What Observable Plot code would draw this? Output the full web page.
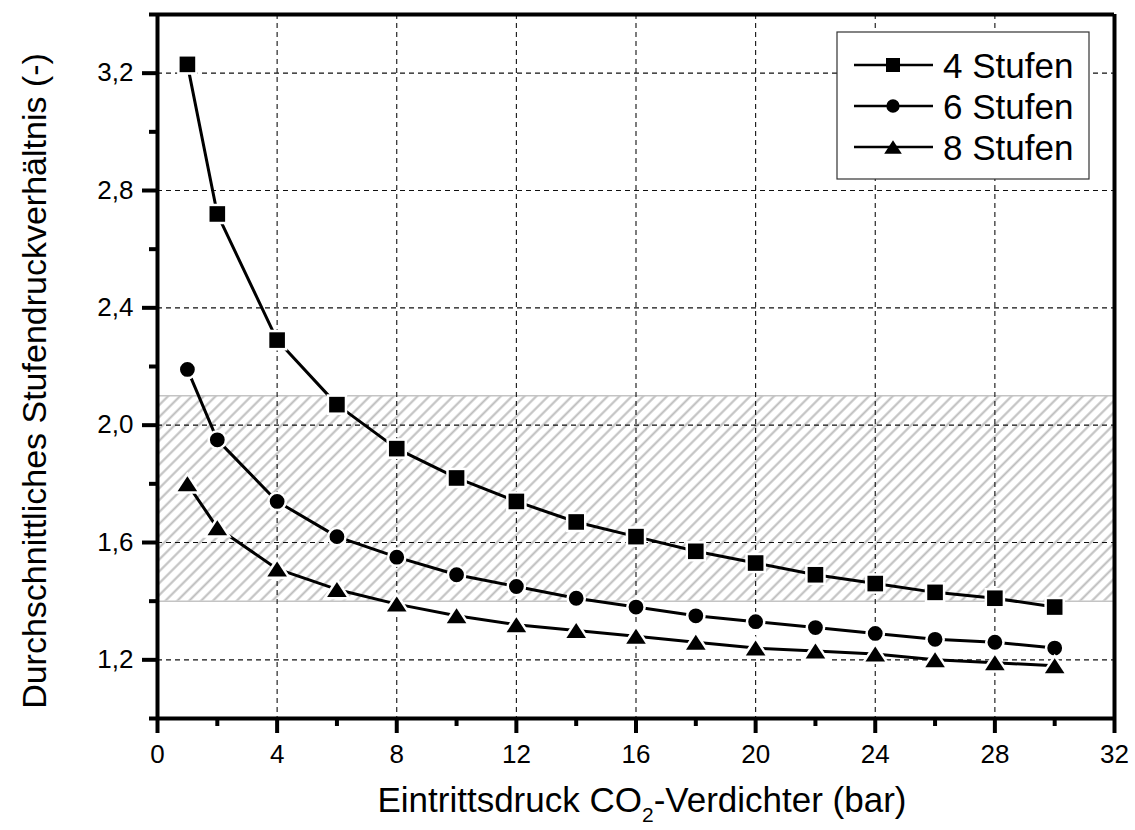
<!DOCTYPE html>
<html>
<head>
<meta charset="utf-8">
<script src="https://cdn.jsdelivr.net/npm/d3@7"></script>
<script src="https://cdn.jsdelivr.net/npm/@observablehq/plot@0.6"></script>
<style>
  body { margin: 0; background: #fff; }
  #wrap { position: relative; width: 1135px; height: 830px; background: #fff; }
  #wrap svg { display: block; }
  #overlay { position: absolute; left: 0; top: 0; pointer-events: none; }
</style>
</head>
<body>
<div id="wrap"></div>
<script>
// ---- data ----
const pressure = [1, 2, 4, 6, 8, 10, 12, 14, 16, 18, 20, 22, 24, 26, 28, 30];
const stufen4 = [3.23, 2.72, 2.29, 2.07, 1.92, 1.82, 1.74, 1.67, 1.62, 1.57, 1.53, 1.49, 1.46, 1.43, 1.41, 1.38];
const stufen6 = [2.19, 1.95, 1.74, 1.62, 1.55, 1.49, 1.45, 1.41, 1.38, 1.35, 1.33, 1.31, 1.29, 1.27, 1.26, 1.24];
const stufen8 = [1.80, 1.65, 1.51, 1.44, 1.39, 1.35, 1.32, 1.30, 1.28, 1.26, 1.24, 1.23, 1.22, 1.20, 1.19, 1.18];
const seriesNames = ["4 Stufen", "6 Stufen", "8 Stufen"];
const bandRange = [1.4, 2.1];
const xDomain = [0, 32];
const yDomain = [1.0, 3.4];
const xMajorTicks = [0, 4, 8, 12, 16, 20, 24, 28, 32];
const xMinorTicks = [2, 6, 10, 14, 18, 22, 26, 30];
const yMajorTicks = [1.2, 1.6, 2.0, 2.4, 2.8, 3.2];
const yMinorTicks = [1.0, 1.4, 1.8, 2.2, 2.6, 3.0, 3.4];
const xGridTicks = [4, 8, 12, 16, 20, 24, 28];
const xTitle = ["Eintrittsdruck CO", "2", "-Verdichter (bar)"];
const yTitle = "Durchschnittliches Stufendruckverhältnis (-)";

// ---- build tables ----
const seriesValues = [stufen4, stufen6, stufen8];
const rows = [];
seriesNames.forEach((s, k) => pressure.forEach((p, i) => rows.push({p, v: seriesValues[k][i], s})));
const bandRows = [{x1: xDomain[0], x2: xDomain[1], y1: bandRange[0], y2: bandRange[1]}];

// ---- custom symbols (Origin-like) ----
const symSquare = {draw(ctx) { const h = 7.8; ctx.moveTo(-h, -h); ctx.lineTo(h, -h); ctx.lineTo(h, h); ctx.lineTo(-h, h); ctx.closePath(); }};
const symCircle = {draw(ctx) { const r = 7.4; ctx.moveTo(r, 0); ctx.arc(0, 0, r, 0, 2 * Math.PI); ctx.closePath(); }};
const symTriangle = {draw(ctx) { const w = 9.8, h = 7.5; ctx.moveTo(0, -h); ctx.lineTo(w, h); ctx.lineTo(-w, h); ctx.closePath(); }};
const symbols = [symSquare, symCircle, symTriangle];

const fontFamily = "'Liberation Sans', Arial, Helvetica, sans-serif";
const fmtY = d => d.toFixed(1).replace(".", ",");

const chart = Plot.plot({
  width: 1135,
  height: 830,
  marginLeft: 157,
  marginRight: 21,
  marginTop: 14,
  marginBottom: 112,
  style: {fontFamily, background: "white", color: "black", overflow: "visible"},
  x: {domain: xDomain, label: null},
  y: {domain: yDomain, label: null},
  marks: [
    Plot.rect(bandRows, {x1: "x1", x2: "x2", y1: "y1", y2: "y2", fill: "url(#hatch)"}),
    Plot.ruleY(bandRange, {stroke: "#c4c4c4", strokeWidth: 1.5}),
    Plot.ruleX(xGridTicks, {stroke: "#111", strokeWidth: 1.1, strokeDasharray: "5,4"}),
    Plot.ruleY(yMajorTicks, {stroke: "#111", strokeWidth: 1.1, strokeDasharray: "5,4"}),
    Plot.line(rows, {x: "p", y: "v", z: "s", stroke: "#000", strokeWidth: 3}),
    ...seriesNames.map((name, k) =>
      Plot.dot(rows.filter(d => d.s === name), {
        x: "p", y: "v", symbol: symbols[k], fill: "#000",
        stroke: "#fff", strokeWidth: 5, paintOrder: "stroke"
      })),
    Plot.ruleX(xDomain, {stroke: "#000", strokeWidth: 4}),
    Plot.ruleY(yDomain, {stroke: "#000", strokeWidth: 4}),
    Plot.axisX(xMajorTicks, {tickSize: 15, tickPadding: 11, fontSize: 26, strokeWidth: 4, label: null, tickFormat: d => String(d)}),
    Plot.axisX(xMinorTicks, {tickSize: 8, strokeWidth: 4, text: null, label: null}),
    Plot.axisY(yMajorTicks, {tickSize: 15, tickPadding: 9, fontSize: 26, strokeWidth: 4, label: null, tickFormat: fmtY}),
    Plot.axisY(yMinorTicks, {tickSize: 8, strokeWidth: 4, text: null, label: null})
  ]
});

// hatch pattern definition
const defs = d3.select(chart).insert("defs", ":first-child");
const pat = defs.append("pattern")
  .attr("id", "hatch").attr("patternUnits", "userSpaceOnUse")
  .attr("width", 8.4).attr("height", 8.4)
  .attr("patternTransform", "rotate(45)");
pat.append("rect").attr("width", 8.4).attr("height", 8.4).attr("fill", "#fff");
pat.append("line").attr("x1", 4.2).attr("y1", 0).attr("x2", 4.2).attr("y2", 8.4)
  .attr("stroke", "#bdbdbd").attr("stroke-width", 2);

const wrap = document.getElementById("wrap");
wrap.appendChild(chart);

// ---- overlay: axis titles + legend ----
const ov = d3.select(wrap).append("svg").attr("id", "overlay")
  .attr("width", 1135).attr("height", 830)
  .style("font-family", fontFamily);

const xt = ov.append("text").attr("x", 642).attr("y", 812).attr("text-anchor", "middle")
  .attr("font-size", 35).attr("fill", "#000");
xt.append("tspan").text(xTitle[0]);
xt.append("tspan").attr("font-size", 21).attr("dy", 10).text(xTitle[1]);
xt.append("tspan").attr("dy", -10).text(xTitle[2]);

ov.append("text").attr("transform", "translate(46,381) rotate(-90)")
  .attr("text-anchor", "middle").attr("font-size", 34).attr("fill", "#000").text(yTitle);

const lg = ov.append("g").attr("transform", "translate(837,32)");
lg.append("rect").attr("width", 252).attr("height", 147).attr("fill", "#fff")
  .attr("stroke", "#333").attr("stroke-width", 1.2);
seriesNames.forEach((name, k) => {
  const cy = 33 + k * 41;
  lg.append("line").attr("x1", 17).attr("x2", 96).attr("y1", cy).attr("y2", cy)
    .attr("stroke", "#000").attr("stroke-width", 2.5);
  const path = d3.path();
  symbols[k].draw(path);
  lg.append("path").attr("d", path.toString()).attr("transform", `translate(56,${cy}) scale(0.9)`).attr("fill", "#000");
  lg.append("text").attr("x", 106).attr("y", cy).attr("dy", "0.36em")
    .attr("font-size", 35).attr("fill", "#000").text(name);
});
</script>
</body>
</html>
